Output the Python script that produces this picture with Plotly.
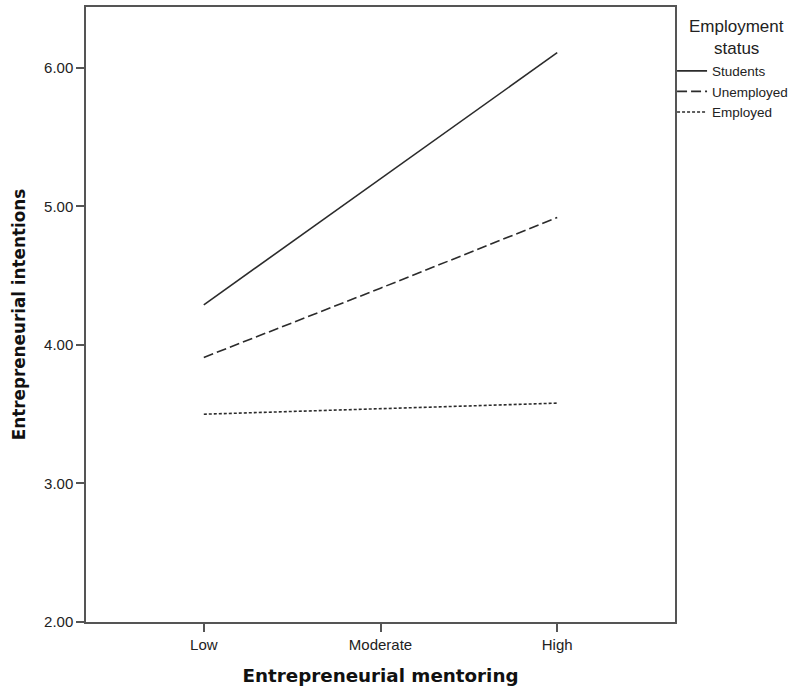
import plotly.graph_objects as go

mentoring = ["Low", "Moderate", "High"]
students = [4.29, 5.20, 6.11]
unemployed = [3.91, 4.41, 4.92]
employed = [3.50, 3.54, 3.58]
series = [("Students", students, "solid"),
          ("Unemployed", unemployed, "10px,4px"),
          ("Employed", employed, "3px,2px")]
y_ticks = [2, 3, 4, 5, 6]
legend_title = ["Employment", "status"]

fig = go.Figure()
for name, vals, dash in series:
    fig.add_trace(go.Scatter(x=[0, 1, 2], y=vals, mode="lines", name=name,
                             line=dict(color="#2b2b2b", width=1.6, dash=dash)))

for i, txt in enumerate(legend_title):
    fig.add_annotation(text=txt, xref="paper", yref="paper", x=1.1036,
                       y=0.9691 - 0.0366 * i, xanchor="center", yanchor="middle",
                       showarrow=False,
                       font=dict(size=17, family="Liberation Sans, Arial", color="#222"))

fig.update_layout(
    width=798, height=691,
    margin=dict(l=86, r=123, t=7, b=69, autoexpand=False),
    plot_bgcolor="white", paper_bgcolor="white",
    font=dict(family="Liberation Sans, Arial", color="#222"),
    showlegend=True,
    legend=dict(x=0.995, y=0.921, xanchor="left", yanchor="top",
                font=dict(size=13.5, family="Liberation Sans, Arial"),
                tracegroupgap=0, itemwidth=30, bgcolor="rgba(0,0,0,0)"),
    xaxis=dict(range=[-2/3, 2 + 2/3], tickvals=[0, 1, 2], ticktext=mentoring,
               showgrid=False, zeroline=False, showline=True, mirror=True,
               linecolor="#555", linewidth=1.5, ticks="outside", ticklen=8,
               tickcolor="#555", tickwidth=1.5,
               tickfont=dict(size=15, color="#222"),
               title=dict(text="<b>Entrepreneurial mentoring</b>",
                          font=dict(size=18.3, family="DejaVu Sans", color="#111"),
                          standoff=17)),
    yaxis=dict(range=[2, 6.44], tickvals=y_ticks,
               ticktext=[f"{v:.2f}" for v in y_ticks],
               showgrid=False, zeroline=False, showline=True, mirror=True,
               linecolor="#555", linewidth=1.5, ticks="outside", ticklen=8,
               tickcolor="#555", tickwidth=1.5,
               tickfont=dict(size=15, color="#222"),
               title=dict(text="<b>Entrepreneurial intentions</b>",
                          font=dict(size=16.8, family="DejaVu Sans", color="#111"),
                          standoff=14)),
)

fig.write_html("out.html")
